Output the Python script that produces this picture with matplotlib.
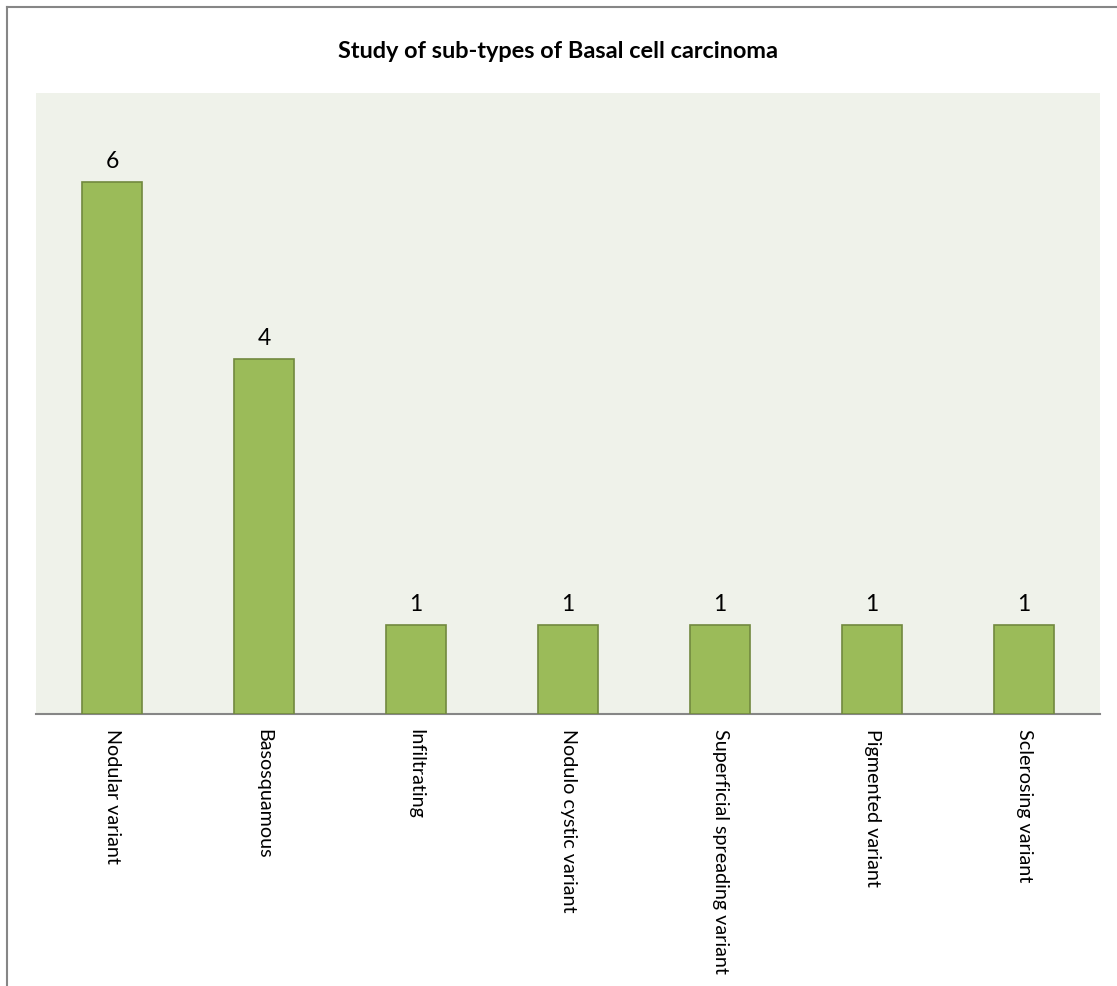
import matplotlib.pyplot as plt
from matplotlib.lines import Line2D

plt.rcParams['font.family'] = ['Lato', 'DejaVu Sans']

categories = ["Nodular variant", "Basosquamous", "Infiltrating", "Nodulo cystic variant",
              "Superficial spreading variant", "Pigmented variant", "Sclerosing variant"]
counts = [6, 4, 1, 1, 1, 1, 1]

fig = plt.figure(figsize=(11.17, 9.87), dpi=100)
ax = fig.add_axes([36/1117, 1 - 715/987, 1064/1117, 621/987])
ax.set_facecolor('#EFF2EA')

x = range(len(categories))
bars = ax.bar(x, counts, width=0.4, color='#9BBB59', edgecolor='#71893F', linewidth=1.2, zorder=3)
for b, v in zip(bars, counts):
    ax.annotate(str(v), (b.get_x() + b.get_width() / 2, v), xytext=(0, 8),
                textcoords='offset points', ha='center', va='bottom', fontsize=16.5)

ax.set_xlim(-0.5, len(categories) - 0.5)
ax.set_ylim(0, 7)
ax.set_yticks([])
ax.set_xticks(list(x))
ax.set_xticklabels(categories, rotation=270, ha='center', va='top', fontsize=14.2)
ax.tick_params(axis='x', length=0, pad=10)
for s in ['top', 'right', 'left']:
    ax.spines[s].set_visible(False)
ax.spines['bottom'].set_color('#868686')
ax.spines['bottom'].set_linewidth(1.5)

fig.text(558/1117, 1 - 52/987, "Study of sub-types of Basal cell carcinoma",
         ha='center', va='center', fontsize=16.9, fontweight='bold')

# chart border (only top/left fall inside the image)
fig.add_artist(Line2D([7/1117, 7/1117], [0, 1 - 8/987], transform=fig.transFigure, color='#868686', lw=1.5))
fig.add_artist(Line2D([7/1117, 1], [1 - 8/987, 1 - 8/987], transform=fig.transFigure, color='#868686', lw=1.5))

fig.savefig('out.png', dpi=100)
